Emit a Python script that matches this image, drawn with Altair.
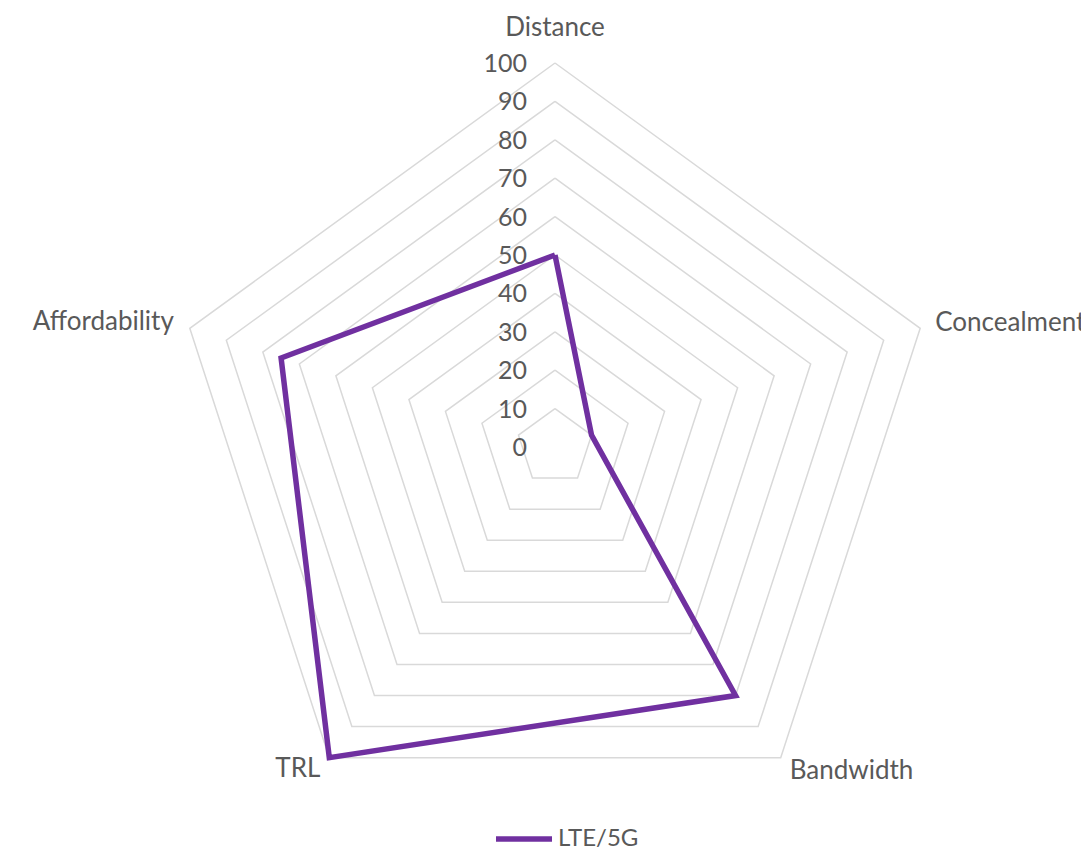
import math
import altair as alt
import pandas as pd

# ---- data ----
categories = ["Distance", "Concealment", "Bandwidth", "TRL", "Affordability"]
values = [50, 10, 80, 100, 75]
series_name = "LTE/5G"
ring_levels = [10, 20, 30, 40, 50, 60, 70, 80, 90, 100]
tick_labels = [0, 10, 20, 30, 40, 50, 60, 70, 80, 90, 100]
axis_max = 100

n = len(categories)
angles = [2 * math.pi * i / n for i in range(n)]


def polar(v, a):
    return v * math.sin(a), v * math.cos(a)


# series polygon (closed)
rows = []
for k in range(n + 1):
    i = k % n
    x, y = polar(values[i], angles[i])
    rows.append({"x": x, "y": y, "order": k, "series": series_name})
series_df = pd.DataFrame(rows)

# grid rings
grid_rows = []
for lv in ring_levels:
    for k in range(n + 1):
        i = k % n
        x, y = polar(lv, angles[i])
        grid_rows.append({"x": x, "y": y, "order": k, "ring": lv})
grid_df = pd.DataFrame(grid_rows)

tick_df = pd.DataFrame({"y": tick_labels, "x": [0] * len(tick_labels),
                        "label": [str(t) for t in tick_labels]})

cat_rows = []
for i, c in enumerate(categories):
    x, y = polar(axis_max, angles[i])
    cat_rows.append({"x": x, "y": y, "cat": c})
cat_df = pd.DataFrame(cat_rows)

# ---- layout ----
W, H = 1081, 850
CX, CY, R = 555, 447, 384
k = R / axis_max
xs = alt.Scale(domain=[-CX / k, (W - CX) / k], range=[0, W], nice=False, zero=False)
ys = alt.Scale(domain=[(CY - H) / k, CY / k], range=[H, 0], nice=False, zero=False)

FONT = "Lato"
GRAY = "#595959"
PURPLE = "#7030A0"

X = alt.X("x:Q", scale=xs, axis=None)
Y = alt.Y("y:Q", scale=ys, axis=None)

grid = alt.Chart(grid_df).mark_line(color="#D9D9D9", strokeWidth=1.5).encode(
    x=X, y=Y, order="order:Q", detail="ring:N"
)

ticks = alt.Chart(tick_df).mark_text(
    align="right", baseline="middle", dx=-28, dy=1, font=FONT, fontSize=25, color=GRAY
).encode(x=X, y=Y, text="label:N")

label_style = {
    "Distance": dict(align="center", dx=0, dy=-35),
    "Concealment": dict(align="left", dx=15, dy=-5),
    "Bandwidth": dict(align="left", dx=9, dy=13),
    "TRL": dict(align="right", dx=-9, dy=11),
    "Affordability": dict(align="right", dx=-16, dy=-6),
}
cat_layers = []
for c in categories:
    st = label_style[c]
    cat_layers.append(
        alt.Chart(cat_df).transform_filter(alt.datum.cat == c).mark_text(
            baseline="middle", font=FONT, fontSize=26, color=GRAY, **st
        ).encode(x=X, y=Y, text="cat:N")
    )

line = alt.Chart(series_df).mark_line(strokeWidth=5.5, strokeJoin="miter").encode(
    x=X, y=Y, order="order:Q",
    color=alt.Color(
        "series:N",
        scale=alt.Scale(domain=[series_name], range=[PURPLE]),
        legend=alt.Legend(
            title=None, orient="none", legendX=493, legendY=824, padding=0,
            symbolType="M-1,0L3.667,0", symbolSize=576, symbolStrokeWidth=5.5,
            labelFont=FONT, labelFontSize=24, labelColor=GRAY, labelOffset=35,
        ),
    ),
)

chart = alt.layer(grid, ticks, *cat_layers, line).properties(
    width=W, height=H, padding=0, autosize=alt.AutoSizeParams(type="none"),
    background="white",
).configure_view(stroke=None)

chart.save("out.html", embed_options={"renderer": "svg", "actions": False})
